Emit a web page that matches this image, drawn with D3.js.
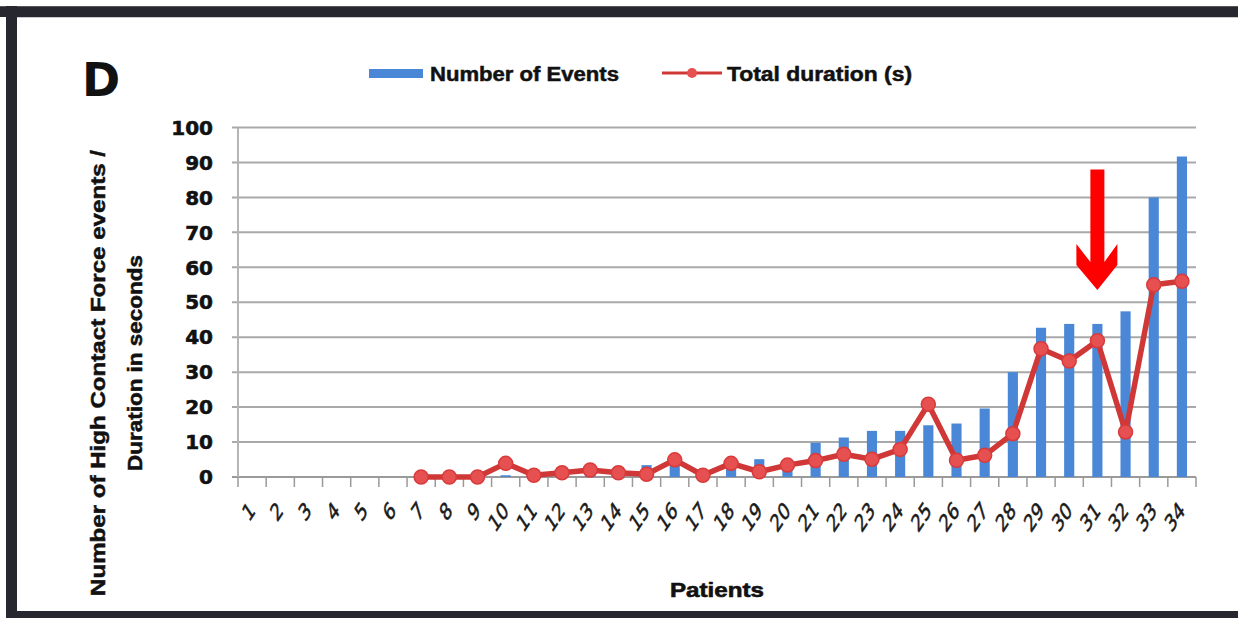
<!DOCTYPE html>
<html>
<head>
<meta charset="utf-8">
<script src="https://d3js.org/d3.v7.min.js"></script>
<style>
  html, body { margin: 0; padding: 0; background: #ffffff; }
  svg { display: block; }
</style>
</head>
<body>
<svg id="drawing_region"></svg>
<script>
// patients on the x axis
const patients = ["1","2","3","4","5","6","7","8","9","10","11","12","13","14","15","16","17",
                  "18","19","20","21","22","23","24","25","26","27","28","29","30","31","32","33","34"];

// Number of Events (bars)
const events = [0, 0, 0, 0, 0, 0, 0, 0, 0, 0.5, 0, 0.5, 1, 0.5, 3.4, 5, 0.5, 4, 5.1, 4,
                9.8, 11.3, 13.2, 13.2, 14.8, 15.3, 19.6, 30, 42.7, 43.8, 43.8, 47.4, 80, 91.7];

// Total duration (s) (line), no value for patients 1-6
const durations = [null, null, null, null, null, null, 0, 0, 0, 3.9, 0.5, 1.2, 2, 1.2, 0.8, 4.9, 0.5,
                   3.9, 1.5, 3.4, 4.7, 6.5, 5.1, 7.9, 20.8, 4.8, 6.2, 12.4, 36.7, 33.2, 39, 12.9, 55, 56];

const yTicks = [0, 10, 20, 30, 40, 50, 60, 70, 80, 90, 100];

// red arrow annotation (patient, top value, tip value)
const arrowPatient = "31";
const arrowTop = 88;
const arrowTip = 53.5;

const seriesNames = ["Number of Events", "Total duration (s)"];
const xTitle = "Patients";
const yTitle = ["Number of High Contact Force events /", "Duration in seconds"];
const panelLabel = "D";

class ComboChart {

    constructor( config ) {
        this.config = config;
        this.data = patients.map( (p, i) => ({ patient: p, events: events[i], duration: durations[i] }) );
        this.init();
    }

    init() {
        let self = this;
        const c = self.config;

        self.svg = d3.select( c.parent )
            .attr('width', c.width)
            .attr('height', c.height);

        self.xscale = d3.scaleBand()
            .domain( patients )
            .range( [c.left, c.right] )
            .padding( 0 );

        self.yscale = d3.scaleLinear()
            .domain( [0, 100] )
            .range( [c.bottom, c.top] );
    }

    render() {
        let self = this;
        const c = self.config;
        const x = self.xscale, y = self.yscale;
        const step = x.bandwidth();
        const cx = p => x(p) + step / 2;
        const bold = "'DejaVu Sans', sans-serif";
        const sans = "'Liberation Sans', Arial, sans-serif";

        // dark frame of the figure
        self.svg.append('rect').attr('x', 0).attr('y', 6).attr('width', c.width).attr('height', 11).attr('fill', '#27272f');
        self.svg.append('rect').attr('x', 0).attr('y', 6).attr('width', c.width).attr('height', 1).attr('fill', '#55555c');
        self.svg.append('rect').attr('x', 6).attr('y', 6).attr('width', 11).attr('height', c.height).attr('fill', '#27272f');
        self.svg.append('rect').attr('x', 6).attr('y', 611).attr('width', c.width).attr('height', 7).attr('fill', '#27272f');
        self.svg.append('rect').attr('x', 17).attr('y', 17).attr('width', c.width).attr('height', 1).attr('fill', '#c9c9ce');

        // gridlines
        self.svg.append('g')
            .selectAll('line')
            .data( yTicks )
            .join('line')
            .attr('x1', c.left - 6)
            .attr('x2', c.right)
            .attr('y1', d => y(d))
            .attr('y2', d => y(d))
            .attr('stroke', d => d === 0 ? '#9a9a9a' : '#a9a9a9')
            .attr('stroke-width', 2);

        // y axis line
        self.svg.append('line')
            .attr('x1', c.left).attr('x2', c.left)
            .attr('y1', y(100)).attr('y2', y(0))
            .attr('stroke', '#b5b5b5').attr('stroke-width', 2);

        // x ticks on category boundaries
        const bounds = patients.map( p => x(p) ).concat( [c.right] );
        self.svg.append('g')
            .selectAll('line')
            .data( bounds )
            .join('line')
            .attr('x1', d => d).attr('x2', d => d)
            .attr('y1', y(0)).attr('y2', y(0) + 10)
            .attr('stroke', '#9a9a9a').attr('stroke-width', 1.5);

        // y tick labels
        self.svg.append('g')
            .selectAll('text')
            .data( yTicks )
            .join('text')
            .attr('x', c.left - 25)
            .attr('y', d => y(d))
            .attr('dy', '0.36em')
            .attr('text-anchor', 'end')
            .attr('font-family', bold)
            .attr('font-weight', 'bold')
            .attr('font-size', '20px')
            .attr('fill', '#111')
            .attr('stroke', '#111').attr('stroke-width', 0.6)
            .text( d => d );

        // x tick labels, rotated
        self.svg.append('g')
            .selectAll('text')
            .data( patients )
            .join('text')
            .attr('transform', d => `translate(${cx(d) + 4}, 512) scale(1, 1.5) rotate(-45)`)
            .attr('text-anchor', 'end')
            .attr('font-family', "'DejaVu Sans', sans-serif")
            .attr('font-size', '16px')
            .attr('fill', '#1a1a1a')
            .attr('stroke', '#1a1a1a').attr('stroke-width', 0.4)
            .text( d => d );

        // bars
        self.svg.append('g')
            .selectAll('rect')
            .data( self.data.filter( d => d.events > 0 ) )
            .join('rect')
            .attr('x', d => cx(d.patient) - step * 0.18)
            .attr('width', step * 0.36)
            .attr('y', d => y(d.events))
            .attr('height', d => y(0) - y(d.events))
            .attr('fill', '#4a87d6');

        // line
        const line = d3.line()
            .defined( d => d.duration !== null )
            .x( d => cx(d.patient) )
            .y( d => y(d.duration) );

        self.svg.append('path')
            .datum( self.data )
            .attr('d', line)
            .attr('fill', 'none')
            .attr('stroke', '#d03838')
            .attr('stroke-width', 5.5)
            .attr('stroke-linejoin', 'round');

        self.svg.append('g')
            .selectAll('circle')
            .data( self.data.filter( d => d.duration !== null ) )
            .join('circle')
            .attr('cx', d => cx(d.patient))
            .attr('cy', d => y(d.duration))
            .attr('r', 7)
            .attr('fill', '#e65050')
            .attr('stroke', '#d83b3b')
            .attr('stroke-width', 1.5);

        // red arrow
        const ax = cx(arrowPatient);
        const yTop = y(arrowTop), yTip = y(arrowTip);
        const arrow = d3.path();
        arrow.moveTo(ax - 7, yTop);
        arrow.lineTo(ax + 7, yTop);
        arrow.lineTo(ax + 7, yTip - 28);
        arrow.lineTo(ax + 20, yTip - 46);
        arrow.lineTo(ax + 20, yTip - 25);
        arrow.lineTo(ax, yTip);
        arrow.lineTo(ax - 21, yTip - 25);
        arrow.lineTo(ax - 21, yTip - 46);
        arrow.lineTo(ax - 7, yTip - 28);
        arrow.closePath();
        self.svg.append('path').attr('d', arrow.toString()).attr('fill', '#ff0000');

        // legend
        const leg = self.svg.append('g').attr('font-family', sans)
            .attr('font-weight', 'bold').attr('font-size', '20px').attr('fill', '#111')
            .attr('stroke', '#111').attr('stroke-width', 0.5);
        leg.append('rect').attr('x', 369).attr('y', 69).attr('width', 54).attr('height', 9)
            .attr('fill', '#4a87d6').attr('stroke', 'none');
        leg.append('text').attr('x', 430).attr('y', 81)
            .attr('textLength', 189).attr('lengthAdjust', 'spacingAndGlyphs').text( seriesNames[0] );
        leg.append('line').attr('x1', 662).attr('x2', 722).attr('y1', 73).attr('y2', 73)
            .attr('stroke', '#d03838').attr('stroke-width', 3);
        leg.append('circle').attr('cx', 692).attr('cy', 73).attr('r', 5)
            .attr('fill', '#e65050').attr('stroke', 'none');
        leg.append('text').attr('x', 727).attr('y', 81)
            .attr('textLength', 185).attr('lengthAdjust', 'spacingAndGlyphs').text( seriesNames[1] );

        // panel label
        self.svg.append('text')
            .attr('x', 82).attr('y', 96)
            .attr('font-family', bold).attr('font-weight', 'bold')
            .attr('font-size', '46px').attr('fill', '#111')
            .text( panelLabel );

        // axis titles
        self.svg.append('text')
            .attr('x', (c.left + c.right) / 2).attr('y', 597)
            .attr('text-anchor', 'middle')
            .attr('font-family', sans).attr('font-weight', 'bold')
            .attr('font-size', '20px').attr('fill', '#111')
            .attr('stroke', '#111').attr('stroke-width', 0.6)
            .attr('textLength', 94).attr('lengthAdjust', 'spacingAndGlyphs')
            .text( xTitle );

        const ytitle = self.svg.append('g')
            .attr('font-family', sans).attr('font-weight', 'bold')
            .attr('font-size', '20px').attr('fill', '#111').attr('text-anchor', 'middle')
            .attr('stroke', '#111').attr('stroke-width', 0.5);
        ytitle.append('text')
            .attr('transform', 'translate(105, 373) rotate(-90)')
            .attr('textLength', 446).attr('lengthAdjust', 'spacingAndGlyphs')
            .text( yTitle[0] );
        ytitle.append('text')
            .attr('transform', 'translate(142, 363) rotate(-90)')
            .attr('textLength', 216).attr('lengthAdjust', 'spacingAndGlyphs')
            .text( yTitle[1] );
    }
}

const chart = new ComboChart({
    parent: '#drawing_region',
    width: 1238,
    height: 618,
    left: 238,
    right: 1196,
    top: 127.5,
    bottom: 477
});
chart.render();
</script>
</body>
</html>
